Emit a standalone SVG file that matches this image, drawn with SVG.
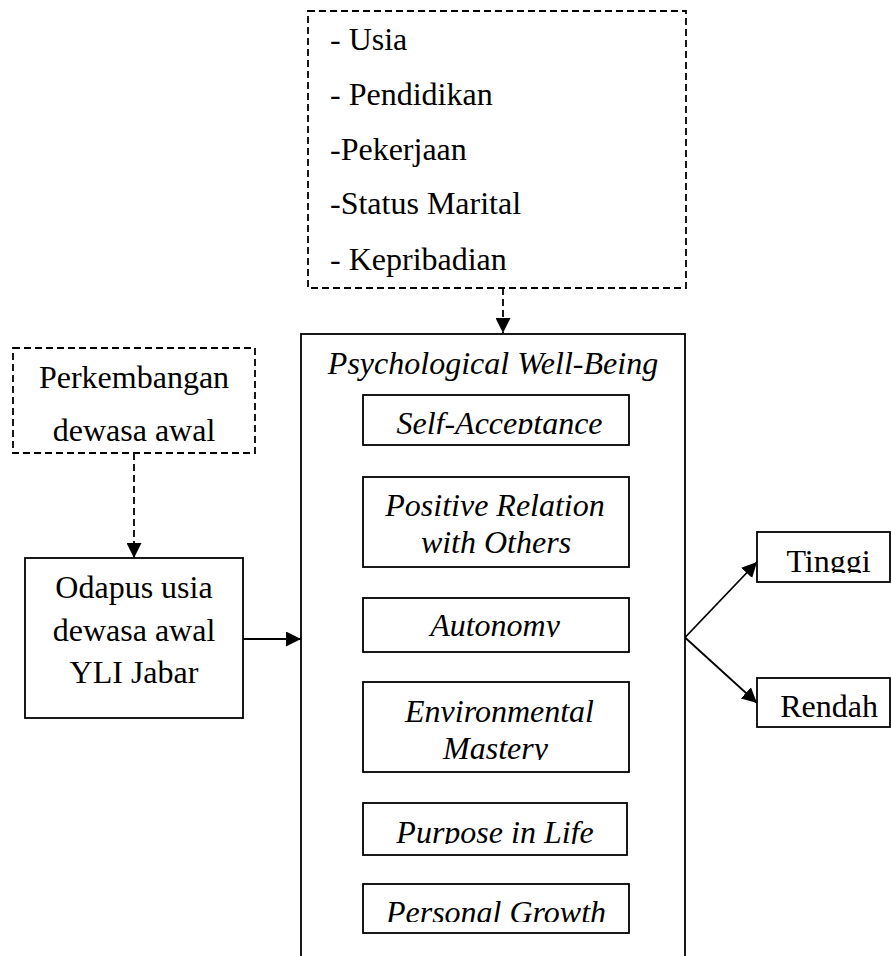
<svg xmlns="http://www.w3.org/2000/svg" width="891" height="956" viewBox="0 0 891 956">
<style>
.box{fill:#fff;stroke:#000;stroke-width:1.8}
.dash{fill:#fff;stroke:#000;stroke-width:1.8;stroke-dasharray:7 4}
.t{font-family:"Liberation Serif","Times New Roman",serif;font-size:32px;fill:#000}
.i{font-style:italic}
.m{text-anchor:middle}
.ln{fill:none;stroke:#000;stroke-width:1.8}
.dl{fill:none;stroke:#000;stroke-width:1.8;stroke-dasharray:7 4}
</style>
<defs>
<marker id="ah" viewBox="0 0 15 15" refX="15" refY="7.5" markerWidth="15" markerHeight="15" markerUnits="userSpaceOnUse" orient="auto">
<path d="M0,0 L15,7.5 L0,15 Z" fill="#000"/>
</marker>
<clipPath id="c1"><rect x="363" y="395" width="266" height="39"/></clipPath>
<clipPath id="c2"><rect x="363" y="477" width="266" height="77"/></clipPath>
<clipPath id="c3"><rect x="363" y="598" width="266" height="39"/></clipPath>
<clipPath id="c4"><rect x="363" y="682" width="266" height="78"/></clipPath>
<clipPath id="c5"><rect x="363" y="803" width="264" height="41"/></clipPath>
<clipPath id="c6"><rect x="363" y="884" width="266" height="38"/></clipPath>
<clipPath id="c7"><rect x="757" y="532" width="134" height="41"/></clipPath>
</defs>

<g id="connectors">
<line class="dl" x1="503" y1="288" x2="503" y2="333" marker-end="url(#ah)"/>
<line class="dl" x1="134" y1="453" x2="134" y2="558" marker-end="url(#ah)"/>
<line class="ln" x1="243" y1="639" x2="301" y2="639" marker-end="url(#ah)"/>
<line class="ln" x1="685" y1="637.5" x2="757" y2="562" marker-end="url(#ah)"/>
<line class="ln" x1="685" y1="637.5" x2="757" y2="703" marker-end="url(#ah)"/>
</g>

<g id="factors">
<rect class="dash" x="308" y="11" width="378" height="277"/>
<text class="t" x="330" y="50">- Usia</text>
<text class="t" x="330" y="105">- Pendidikan</text>
<text class="t" x="330" y="160">-Pekerjaan</text>
<text class="t" x="330" y="214">-Status Marital</text>
<text class="t" x="330" y="270">- Kepribadian</text>
</g>

<g id="perkembangan">
<rect class="dash" x="13" y="348" width="242" height="105"/>
<text class="t m" x="134" y="388">Perkembangan</text>
<text class="t m" x="134" y="441">dewasa awal</text>
</g>

<g id="odapus">
<rect class="box" x="25" y="558" width="218" height="160"/>
<text class="t m" x="134" y="598">Odapus usia</text>
<text class="t m" x="134" y="641">dewasa awal</text>
<text class="t m" x="134" y="683">YLI Jabar</text>
</g>

<g id="pwb">
<rect class="box" x="301" y="334" width="384" height="640"/>
<text class="t i m" x="493" y="374">Psychological Well-Being</text>
</g>

<g id="self-acceptance">
<rect class="box" x="363" y="395" width="266" height="50"/>
<text class="t i m" x="499.5" y="434" clip-path="url(#c1)">Self-Acceptance</text>
</g>

<g id="positive-relation">
<rect class="box" x="363" y="477" width="266" height="90"/>
<g clip-path="url(#c2)">
<text class="t i m" x="495" y="516">Positive Relation</text>
<text class="t i m" x="496" y="553">with Others</text>
</g>
</g>

<g id="autonomy">
<rect class="box" x="363" y="598" width="266" height="54"/>
<text class="t i m" x="495" y="636" clip-path="url(#c3)">Autonomy</text>
</g>

<g id="environmental-mastery">
<rect class="box" x="363" y="682" width="266" height="90"/>
<g clip-path="url(#c4)">
<text class="t i m" x="499.5" y="722">Environmental</text>
<text class="t i m" x="495.5" y="759">Mastery</text>
</g>
</g>

<g id="purpose-in-life">
<rect class="box" x="363" y="803" width="264" height="52"/>
<text class="t i m" x="495" y="843" clip-path="url(#c5)">Purpose in Life</text>
</g>

<g id="personal-growth">
<rect class="box" x="363" y="884" width="266" height="49"/>
<text class="t i m" x="496" y="923" clip-path="url(#c6)">Personal Growth</text>
</g>

<g id="tinggi">
<rect class="box" x="757" y="532" width="133" height="50"/>
<text class="t m" x="828.5" y="572" clip-path="url(#c7)">Tinggi</text>
</g>

<g id="rendah">
<rect class="box" x="757" y="678" width="133" height="49"/>
<text class="t m" x="829" y="717">Rendah</text>
</g>
</svg>
